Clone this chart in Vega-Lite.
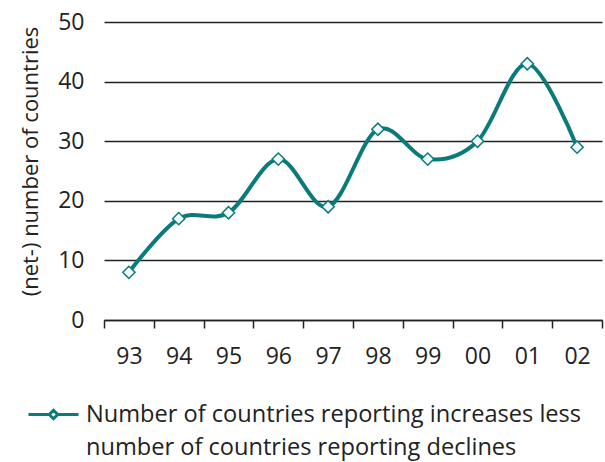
{
  "$schema": "https://vega.github.io/schema/vega-lite/v6.json",
  "width": 498,
  "height": 298,
  "autosize": {"type": "none"},
  "padding": {"left": 104, "top": 22, "right": 3, "bottom": 142},
  "background": "white",
  "config": {"view": {"stroke": null}, "font": "Open Sans"},
  "data": {
    "values": [
      {"year": "93", "value": 8},
      {"year": "94", "value": 17},
      {"year": "95", "value": 18},
      {"year": "96", "value": 27},
      {"year": "97", "value": 19},
      {"year": "98", "value": 32},
      {"year": "99", "value": 27},
      {"year": "00", "value": 30},
      {"year": "01", "value": 43},
      {"year": "02", "value": 29}
    ]
  },
  "encoding": {
    "x": {
      "field": "year", "type": "ordinal", "sort": null,
      "scale": {"type": "band", "paddingInner": 0, "paddingOuter": 0},
      "axis": {
        "title": null, "labelAngle": 0, "tickBand": "extent", "grid": false,
        "domainColor": "#222", "domainWidth": 1.5, "tickColor": "#222", "tickWidth": 1.5, "tickSize": 8,
        "labelFontSize": 23, "labelColor": "#222", "labelPadding": 17
      }
    },
    "y": {
      "field": "value", "type": "quantitative",
      "scale": {"domain": [0, 50], "nice": false},
      "axis": {
        "values": [0, 10, 20, 30, 40, 50], "domain": false, "ticks": false,
        "gridColor": "#222", "gridWidth": 1.5, "gridOpacity": 1,
        "labelFontSize": 23, "labelColor": "#222", "labelPadding": 20,
        "title": "(net-) number of countries", "titleFontSize": 22, "titleFontWeight": "normal",
        "titleColor": "#222", "titlePadding": 15, "titleY": 139
      }
    }
  },
  "layer": [
    {
      "mark": {"type": "line", "interpolate": "cardinal", "strokeWidth": 4},
      "encoding": {
        "color": {
          "datum": "series",
          "scale": {"range": ["#0b7b7a"]},
          "legend": {
            "title": null, "orient": "none", "legendX": -77, "legendY": 366,
            "symbolType": "M-1,0L-0.17,0M0.17,0L1,0M-0.17,0L0,-0.17L0.17,0L0,0.17Z",
            "symbolSize": 2500, "symbolStrokeWidth": 3, "symbolFillColor": "#f0fafa",
            "symbolStrokeColor": "#0b7b7a",
            "labelFontSize": 23.6, "labelColor": "#222", "labelLimit": 0, "labelOffset": 6,
            "labelExpr": "['Number of countries reporting increases less', 'number of countries reporting declines']",
            "encode": {"labels": {"update": {"lineHeight": {"value": 33}}}}
          }
        }
      }
    },
    {
      "mark": {"type": "point", "shape": "diamond", "filled": true, "fill": "#f0fafa", "stroke": "#0b7b7a", "strokeWidth": 1.5, "size": 150, "opacity": 1}
    }
  ]
}
